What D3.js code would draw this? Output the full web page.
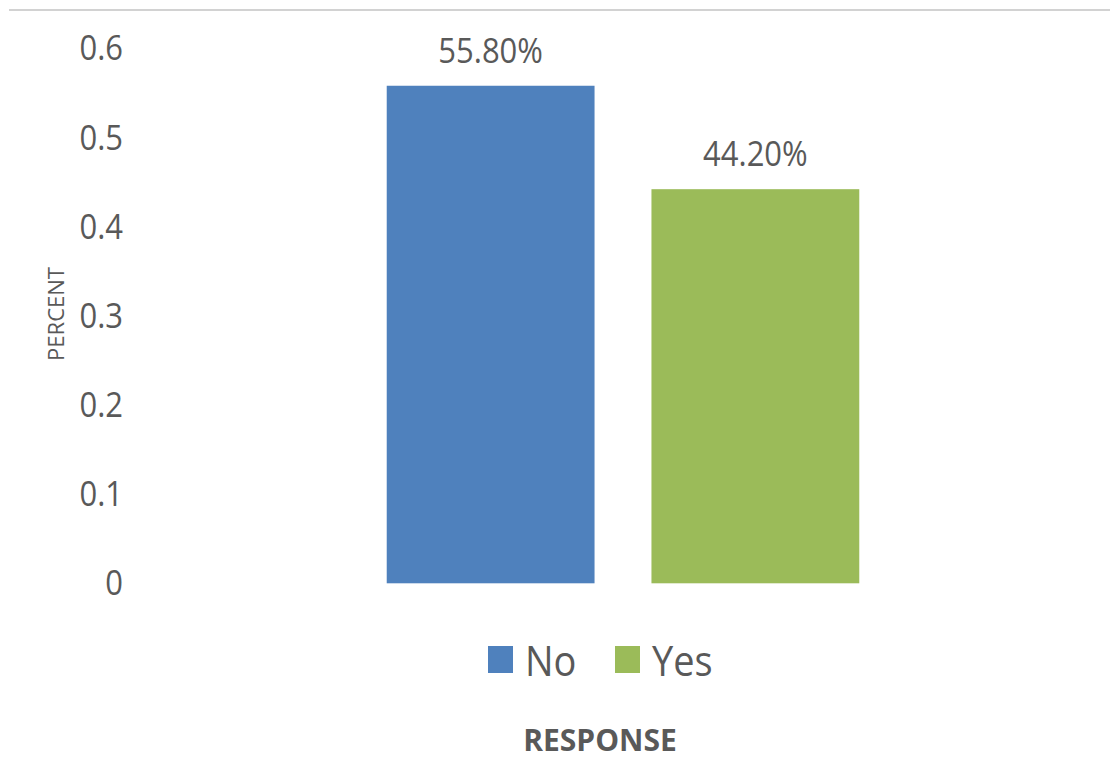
<!DOCTYPE html>
<html>

<head>
  <meta charset="utf8">
  <script src="https://d3js.org/d3.v7.min.js"></script>
  <style>
    body {
      margin: 0;
      background: #fff;
    }

    text {
      font-family: "Open Sans", sans-serif;
      fill: #595959;
    }

    .tick-label,
    .value-label {
      font-size: 31px;
    }

    .legend text {
      font-size: 38px;
    }

    .x-title {
      font-size: 30px;
      font-weight: bold;
      text-anchor: middle;
    }

    .y-title {
      font-size: 22px;
      text-anchor: middle;
    }
  </style>
</head>

<body>
  <svg id="chart" width="1110" height="760"></svg>
  <script>
    var series = ['No', 'Yes'];
    var values = [0.558, 0.442];
    var valueLabels = ['55.80%', '44.20%'];
    var colors = ['#4f81bd', '#9bbb59'];
    var tickValues = [0, 0.1, 0.2, 0.3, 0.4, 0.5, 0.6];
    var tickLabels = ['0', '0.1', '0.2', '0.3', '0.4', '0.5', '0.6'];

    var chart = d3.select('#chart');
    // the source picture is a bit stretched vertically, so text is too
    var stretch = 1.12;

    function place(x, y) {
      return 'translate(' + x + ',' + y + ') scale(1,' + stretch + ')';
    }

    // top border line of the picture
    chart.append('line')
      .attr('x1', 9).attr('x2', 1110)
      .attr('y1', 10).attr('y2', 10)
      .attr('stroke', '#d2d2d2')
      .attr('stroke-width', 2);

    var y = d3.scaleLinear()
      .domain([0, 0.6])
      .range([583.3, 48.3]);

    var x = d3.scaleBand()
      .domain(series)
      .range([140, 1106])
      .paddingInner(0.215)
      .paddingOuter(0.932);

    var color = d3.scaleOrdinal()
      .domain(series)
      .range(colors);

    // y tick labels
    chart.append('g')
      .selectAll('text')
      .data(tickValues)
      .enter()
      .append('text')
      .attr('class', 'tick-label')
      .attr('transform', (d) => place(123, y(d)))
      .attr('dy', '0.35em')
      .attr('text-anchor', 'end')
      .text((d, i) => tickLabels[i]);

    chart.append('text')
      .attr('class', 'y-title')
      .attr('transform', 'translate(64, 314) rotate(-90)')
      .text('PERCENT');

    var bars = chart.append('g');

    bars.selectAll('rect')
      .data(series)
      .enter()
      .append('rect')
      .attr('x', (d) => x(d))
      .attr('width', x.bandwidth())
      .attr('y', (d, i) => y(values[i]))
      .attr('height', (d, i) => y(0) - y(values[i]))
      .attr('fill', color);

    bars.selectAll('.value-label')
      .data(series)
      .enter()
      .append('text')
      .attr('class', 'value-label')
      .attr('transform', (d, i) => place(x(d) + x.bandwidth() / 2, y(values[i]) - 23))
      .attr('text-anchor', 'middle')
      .text((d, i) => valueLabels[i]);

    // legend
    var legend = chart.append('g')
      .attr('class', 'legend');

    var legendX = [488, 615];

    var item = legend.selectAll('g')
      .data(series)
      .enter()
      .append('g')
      .attr('transform', (d, i) => 'translate(' + legendX[i] + ', 646)');

    item.append('rect')
      .attr('width', 25)
      .attr('height', 27)
      .attr('fill', color);

    item.append('text')
      .attr('transform', place(37, 30))
      .text((d) => d);

    chart.append('text')
      .attr('class', 'x-title')
      .attr('x', 600)
      .attr('y', 751)
      .text('RESPONSE');
  </script>
</body>

</html>
